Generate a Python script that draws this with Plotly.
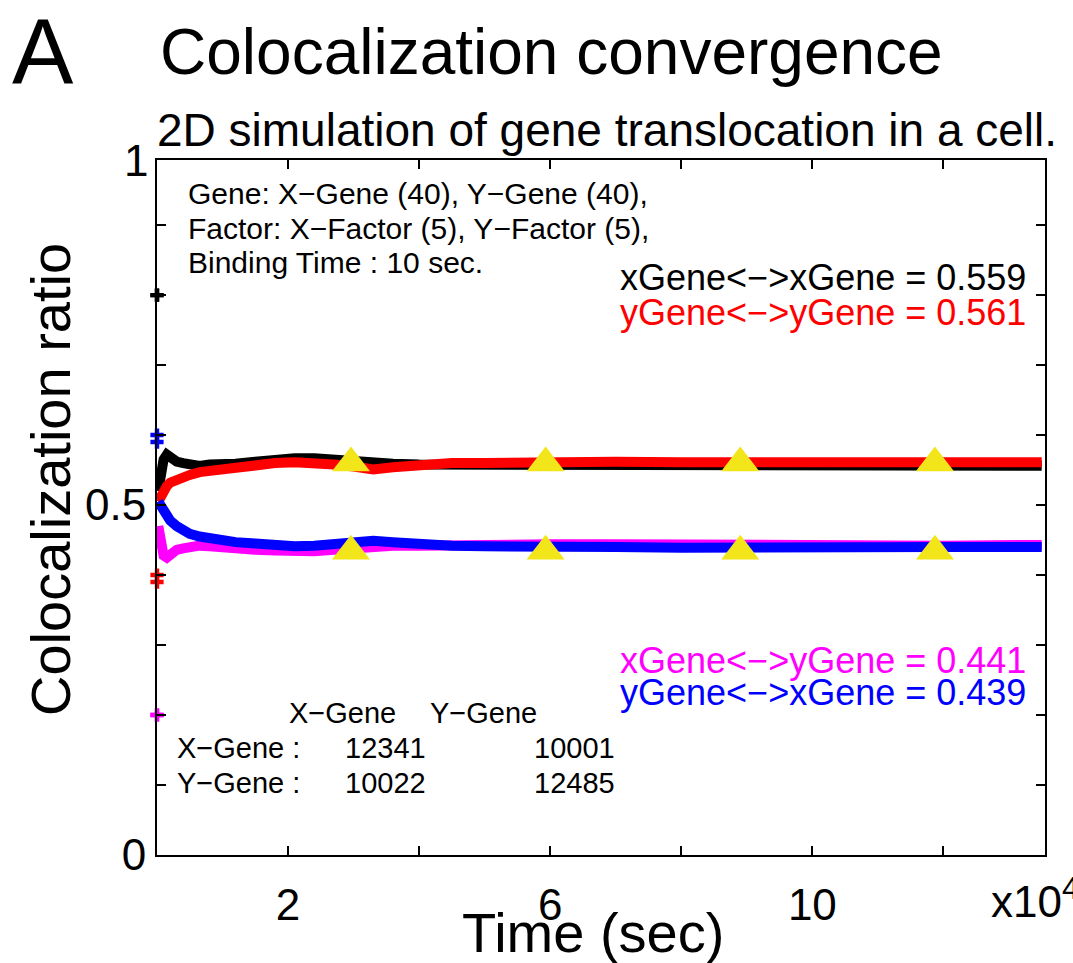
import plotly.graph_objects as go

# ---------------- data ----------------
time_1e4 = [0.02, 0.05, 0.1, 0.15, 0.2, 0.3, 0.4, 0.5, 0.65, 0.8, 1.0, 1.2, 1.5, 1.8,
            2.1, 2.4, 2.7, 3.0, 3.3, 3.6, 4.0, 4.5, 5.0, 5.5, 6.0, 7.0, 8.0, 9.0,
            10.0, 11.0, 12.0, 13.5]

xx_ratio = [0.52, 0.545, 0.565, 0.572, 0.568, 0.562, 0.56, 0.557, 0.556, 0.558, 0.557,
            0.559, 0.562, 0.565, 0.567, 0.567, 0.565, 0.562, 0.558, 0.559, 0.558, 0.558,
            0.557, 0.557, 0.557, 0.557, 0.556, 0.557, 0.558, 0.558, 0.557, 0.556]
yy_ratio = [0.505, 0.511, 0.52, 0.527, 0.532, 0.537, 0.54, 0.543, 0.547, 0.549, 0.552,
            0.554, 0.557, 0.56, 0.561, 0.561, 0.558, 0.555, 0.551, 0.554, 0.558, 0.56,
            0.56, 0.561, 0.562, 0.562, 0.561, 0.561, 0.561, 0.561, 0.561, 0.561]
xy_ratio = [0.47, 0.45, 0.428, 0.425, 0.43, 0.436, 0.438, 0.44, 0.442, 0.441, 0.439,
            0.437, 0.436, 0.435, 0.434, 0.434, 0.436, 0.438, 0.441, 0.442, 0.442, 0.443,
            0.444, 0.444, 0.444, 0.444, 0.443, 0.442, 0.442, 0.442, 0.442, 0.443]
yx_ratio = [0.505, 0.5, 0.49, 0.484, 0.478, 0.47, 0.464, 0.459, 0.455, 0.452, 0.449,
            0.447, 0.445, 0.442, 0.441, 0.442, 0.445, 0.447, 0.449, 0.447, 0.444, 0.442,
            0.441, 0.44, 0.44, 0.44, 0.439, 0.44, 0.44, 0.44, 0.44, 0.44]

# first recorded values at t = 0
init_time = [0.0, 0.0]
xx_init = [0.8, 0.8]
yy_init = [0.40, 0.39]
xy_init = [0.2, 0.2]
yx_init = [0.60, 0.59]

# yellow triangle markers
tri_time = [2.96, 5.93, 8.9, 11.87]
tri_upper = [0.56, 0.56, 0.56, 0.56]
tri_lower = [0.434, 0.434, 0.434, 0.434]

x_tickvals = [2, 6, 10]
x_ticktext = ["2", "6", "10"]
y_tickvals = [0, 0.5]
y_ticktext = ["0", "0.5"]

# ---------------- layout geometry ----------------
W, H = 1073, 963
L, R, T, B = 157, 28, 160, 108
PW = W - L - R
PH = H - T - B
FONT = "Liberation Sans, Arial, sans-serif"


def px(xp):
    return (xp - L) / PW


def py(yp):
    return (H - B - yp) / PH


fig = go.Figure()

series = [
    (xx_ratio, xx_init, "#000000"),
    (yy_ratio, yy_init, "#ff0000"),
    (xy_ratio, xy_init, "#ff00ff"),
    (yx_ratio, yx_init, "#0000ff"),
]
for vals, init, col in series:
    fig.add_trace(go.Scatter(x=time_1e4, y=vals, mode="lines",
                             line=dict(color=col, width=10), showlegend=False,
                             cliponaxis=False))
for vals, init, col in series:
    fig.add_trace(go.Scatter(x=init_time, y=init, mode="markers",
                             marker=dict(symbol="cross", size=11, color=col),
                             showlegend=False, cliponaxis=False))

for tri in (tri_upper, tri_lower):
    fig.add_trace(go.Scatter(x=tri_time, y=tri, mode="markers",
                             marker=dict(symbol="triangle-up", size=33, color="#f2e61a",
                                         line=dict(width=0)),
                             showlegend=False))

ann = []


def text(s, x, y, size, color="black", xanchor="left", yanchor="middle", angle=0):
    ann.append(dict(text=s, x=px(x), y=py(y), xref="paper", yref="paper",
                    showarrow=False, xanchor=xanchor, yanchor=yanchor,
                    textangle=angle, font=dict(family=FONT, size=size, color=color)))


text("A", 43, 52, 92, xanchor="center")
text("Colocalization convergence", 158, 52, 64)
text("2D simulation of gene translocation in a cell.", 155, 130, 46)
text("1", 150, 160, 44, xanchor="right")
text("Colocalization ratio", 50, 480, 56, xanchor="center", angle=-90)
text("Time (sec)", 593, 932, 56, xanchor="center")
text("x10<sup>4</sup>", 989, 898, 44)

text("Gene: X\u2212Gene (40), Y\u2212Gene (40),", 186, 193, 30)
text("Factor: X\u2212Factor (5), Y\u2212Factor (5),", 186, 228, 30)
text("Binding Time : 10 sec.", 186, 262, 30)

text("xGene<\u2212>xGene = 0.559", 1028, 277, 36, "#000000", xanchor="right")
text("yGene<\u2212>yGene = 0.561", 1028, 312, 36, "#ff0000", xanchor="right")
text("xGene<\u2212>yGene = 0.441", 1028, 660, 36, "#ff00ff", xanchor="right")
text("yGene<\u2212>xGene = 0.439", 1028, 692, 36, "#0000ff", xanchor="right")

text("X\u2212Gene", 287, 713, 29)
text("Y\u2212Gene", 428, 713, 29)
text("X\u2212Gene :", 175, 748, 29)
text("Y\u2212Gene :", 175, 783, 29)
text("12341", 343, 748, 29)
text("10001", 532, 748, 29)
text("10022", 343, 783, 29)
text("12485", 532, 783, 29)

fig.update_layout(
    width=W, height=H,
    margin=dict(l=L, r=R, t=T, b=B, pad=0),
    paper_bgcolor="white", plot_bgcolor="white",
    font=dict(family=FONT, size=44, color="black"),
    annotations=ann,
    showlegend=False,
)
fig.update_xaxes(range=[0, 13.55], tickvals=x_tickvals, ticktext=x_ticktext,
                 ticks="inside", ticklen=9, tickwidth=1.5, tickcolor="black",
                 ticklabelstandoff=10,
                 minor=dict(ticks="inside", tick0=0, dtick=2, ticklen=9,
                            tickwidth=1.5, tickcolor="black", showgrid=False),
                 showline=True, linecolor="black", linewidth=2, mirror="ticks",
                 showgrid=False, zeroline=False,
                 tickfont=dict(family=FONT, size=44))
fig.update_yaxes(range=[0, 0.993], tickvals=y_tickvals, ticktext=y_ticktext,
                 ticks="inside", ticklen=9, tickwidth=1.5, tickcolor="black",
                 minor=dict(ticks="inside", tick0=0, dtick=0.1, ticklen=9,
                            tickwidth=1.5, tickcolor="black", showgrid=False),
                 showline=True, linecolor="black", linewidth=2, mirror="ticks",
                 showgrid=False, zeroline=False,
                 tickfont=dict(family=FONT, size=44))

fig.write_html("out.html")
